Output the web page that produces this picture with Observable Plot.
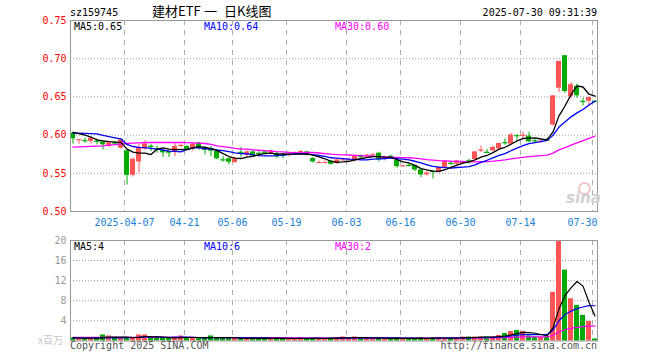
<!DOCTYPE html>
<html><head><meta charset="utf-8">
<script src="https://cdn.jsdelivr.net/npm/d3@7"></script>
<script src="https://cdn.jsdelivr.net/npm/@observablehq/plot@0.6"></script>
<style>
body{margin:0;background:#fff;}
#wrap{position:relative;width:660px;height:360px;overflow:hidden;font-family:"DejaVu Sans Mono",monospace;background:#fff;}
#wrap svg{position:absolute;left:0;background:transparent;}
.t{position:absolute;white-space:nowrap;font-size:10px;line-height:10px;z-index:5;}
</style></head><body><div id="wrap"></div><script>
const dates = ["03-24","03-25","03-26","03-27","03-28","03-31","04-01","04-02","04-03",
"04-07","04-08","04-09","04-10","04-11","04-14","04-15","04-16","04-17","04-18",
"04-21","04-22","04-23","04-24","04-25","04-28","04-29","04-30",
"05-06","05-07","05-08","05-09","05-12","05-13","05-14","05-15","05-16",
"05-19","05-20","05-21","05-22","05-23","05-26","05-27","05-28","05-29","05-30",
"06-03","06-04","06-05","06-06","06-09","06-10","06-11","06-12","06-13",
"06-16","06-17","06-18","06-19","06-20","06-23","06-24","06-25","06-26","06-27","06-30",
"07-01","07-02","07-03","07-04","07-07","07-08","07-09","07-10","07-11",
"07-14","07-15","07-16","07-17","07-18","07-21","07-22","07-23","07-24","07-25",
"07-28","07-29","07-30"];
const open = [.6026,.5935,.5930,.5917,.5921,.5908,.5851,.5899,.5829,.5793,
.5474,.5649,.5816,.5855,.5825,.5794,.5785,.5772,.5860,.5851,
.5820,.5895,.5838,.5825,.5785,.5680,.5689,.5640,.5775,.5737,
.5780,.5763,.5780,.5760,.5760,.5740,.5741,.5764,.5763,.5780,
.5693,.5636,.5636,.5662,.5627,.5671,.5676,.5667,.5732,.5711,
.5737,.5763,.5693,.5724,.5667,.5592,.5605,.5601,.5543,.5480,
.5526,.5513,.5575,.5631,.5618,.5627,.5666,.5680,.5799,.5776,
.5793,.5820,.5903,.5882,.5995,.5992,.5987,.5929,.5908,.5938,
.6132,.6614,.7039,.6504,.6640,.6442,.6443,.6442];
const high = [.6039,.5939,.5961,.5974,.5947,.5917,.5917,.5917,.5952,.5807,
.5697,.5877,.5925,.5882,.5851,.5807,.5794,.5895,.5882,.5864,
.5899,.5908,.5851,.5851,.5798,.5719,.5702,.5702,.5838,.5798,
.5793,.5785,.5790,.5807,.5776,.5760,.5768,.5780,.5798,.5785,
.5706,.5662,.5662,.5671,.5689,.5697,.5702,.5741,.5741,.5750,
.5760,.5776,.5724,.5737,.5675,.5605,.5627,.5605,.5548,.5526,
.5535,.5583,.5662,.5654,.5671,.5662,.5684,.5785,.5855,.5811,
.5855,.5895,.5952,.6026,.6004,.6039,.6039,.5943,.5934,.5961,
.6517,.6965,.7039,.6688,.6671,.6483,.6496,.6455];
const low = [.5882,.5882,.5895,.5882,.5873,.5807,.5838,.5873,.5816,.5346,
.5450,.5500,.5803,.5785,.5763,.5706,.5706,.5719,.5838,.5798,
.5790,.5802,.5741,.5719,.5675,.5645,.5610,.5632,.5706,.5706,
.5710,.5714,.5745,.5745,.5693,.5693,.5714,.5750,.5745,.5724,
.5632,.5627,.5627,.5605,.5618,.5662,.5667,.5645,.5697,.5702,
.5728,.5649,.5662,.5684,.5566,.5583,.5583,.5522,.5443,.5465,
.5425,.5504,.5566,.5605,.5605,.5618,.5618,.5671,.5772,.5763,
.5785,.5807,.5868,.5882,.5934,.5943,.5899,.5899,.5895,.5925,
.6118,.6557,.6548,.6470,.6483,.6382,.6373,.6430];
const close = [.5951,.5939,.5925,.5961,.5917,.5873,.5899,.5895,.5939,.5474,
.5684,.5833,.5886,.5851,.5820,.5768,.5763,.5851,.5864,.5807,
.5882,.5838,.5799,.5790,.5689,.5675,.5645,.5689,.5770,.5780,
.5724,.5760,.5760,.5793,.5714,.5737,.5745,.5768,.5785,.5737,
.5649,.5640,.5640,.5618,.5675,.5675,.5680,.5732,.5706,.5737,
.5741,.5675,.5697,.5693,.5588,.5596,.5601,.5543,.5478,.5504,
.5522,.5575,.5654,.5627,.5662,.5649,.5662,.5780,.5803,.5772,
.5838,.5890,.5899,.6000,.5991,.5996,.5912,.5925,.5921,.5934,
.6513,.6965,.6570,.6660,.6515,.6438,.6493,.6438];
const volume = [0.6,0.5,0.5,0.6,0.5,1.2,1.0,0.5,0.7,0.6,
0.7,1.2,1.2,0.6,0.5,0.5,0.6,0.8,1.0,0.6,
0.5,0.6,0.6,1.0,0.7,0.5,0.6,0.5,0.6,0.5,
0.6,0.5,0.6,0.5,0.6,0.5,0.4,0.5,0.6,0.5,
0.6,0.5,0.5,0.6,0.7,0.8,0.5,0.8,0.6,0.5,
0.6,0.6,0.5,0.5,0.6,0.5,0.5,0.6,0.6,0.5,
0.6,0.7,0.6,0.5,0.6,0.8,0.8,0.8,0.8,0.8,
0.8,1.1,1.5,1.9,2.1,1.9,1.0,0.8,0.7,0.8,
9.7,19.9,14.1,8.4,7.1,5.1,3.9,0.4];
// MA values before a full window is available
const ma5Head = [0.6036,0.6020,0.6000,0.5975];
const ma10Head = [0.6026,0.6024,0.6022,0.6020,0.6015,0.5995,0.5980,0.5965,0.5950];
const ma30Head = [0.5842,0.5845,0.5848,0.5852,0.5856,0.5860,0.5868,0.5876,0.5884,0.5890,
0.5895,0.5899,0.5903,0.5903,0.5903,0.5903,0.5903,0.5903,0.5903,0.5901,
0.5898,0.5895,0.5890,0.5878,0.5858,0.5848,0.5838,0.5825,0.5816];
const vma5Head = [0.62,0.60,0.58,0.60];
const vma10Head = [0.62,0.61,0.60,0.60,0.61,0.62,0.62,0.61,0.62];
const vma30Head = [0.72,0.72,0.71,0.71,0.71,0.72,0.72,0.71,0.71,0.71,
0.72,0.72,0.73,0.72,0.72,0.71,0.71,0.71,0.72,0.71,
0.71,0.70,0.70,0.70,0.70,0.69,0.69,0.68,0.68];
const tickDates = ["04-07","04-21","05-06","05-19","06-03","06-16","06-30","07-14","07-30"];
const tickLabels = ["2025-04-07","04-21","05-06","05-19","06-03","06-16","06-30","07-14","07-30"];
const priceTicks = [0.50,0.55,0.60,0.65,0.70,0.75];
const priceGrid = [0.55,0.60,0.65,0.70];
const volTicks = [4,8,12,16,20];

const RED = "#ff5555", GREEN = "#00aa00";
const N = dates.length;
function ma(arr, n, head){ return arr.map((_, i) => i < n-1 ? head[i] : d3.mean(arr.slice(i-n+1, i+1))); }
const m5 = ma(close,5,ma5Head), m10 = ma(close,10,ma10Head), m30 = ma(close,30,ma30Head);
const v5 = ma(volume,5,vma5Head), v10 = ma(volume,10,vma10Head), v30 = ma(volume,30,vma30Head);
const rows = d3.range(N).map(i => ({i, o:open[i], h:high[i], l:low[i], c:close[i], v:volume[i],
  col: close[i] >= open[i] ? RED : GREEN, m5:m5[i], m10:m10[i], m30:m30[i], v5:v5[i], v10:v10[i], v30:v30[i]}));
const half = 2.5/6, bw = 0.42;
const xDomain = [-half, N-1+half];
const tickIdx = tickDates.map(d => dates.indexOf(d));
const doji = rows.filter(d => Math.abs(d.c - d.o) < 0.0009);
const font = {fontFamily:"'DejaVu Sans Mono', monospace", fontSize:"10px", background:"transparent"};

const price = Plot.plot({
  width:660, height:230, marginLeft:70, marginRight:63, marginTop:20, marginBottom:19,
  style: font,
  x:{domain:xDomain, axis:null},
  y:{domain:[0.5,0.75], axis:null},
  color:{type:"identity"},
  marks:[
    Plot.ruleY(priceGrid, {stroke:"#999", strokeDasharray:"1,2"}),
    Plot.ruleX(tickIdx, {x:d=>d-half, stroke:"#aaa", strokeDasharray:"5,5"}),
    Plot.text(priceTicks, {x:xDomain[0], y:d=>d, text:d=>d.toFixed(2), textAnchor:"end", dx:-4, fill:"#ff0000"}),
    Plot.text(tickIdx.slice(0,-1), {x:d=>d-half, y:0.5, text:(d,k)=>tickLabels[k], dy:11, fill:"#1a7fd6"}),
    Plot.text([tickIdx[tickIdx.length-1]], {x:xDomain[1], y:0.5, text:()=>tickLabels[tickLabels.length-1], dy:11, textAnchor:"end", fill:"#1a7fd6"}),
    Plot.ruleX(rows, {x:"i", y1:"l", y2:"h", stroke:"col"}),
    Plot.rect(rows, {x1:d=>d.i-bw, x2:d=>d.i+bw, y1:"o", y2:"c", fill:"col"}),
    Plot.ruleY(doji, {y:"c", x1:d=>d.i-bw, x2:d=>d.i+bw+0.1, stroke:"col"}),
    Plot.line(rows, {x:"i", y:"m30", stroke:"#ff00ff", strokeWidth:1.3}),
    Plot.line(rows, {x:"i", y:"m10", stroke:"#0000ff", strokeWidth:1.3}),
    Plot.line(rows, {x:"i", y:"m5", stroke:"#000000", strokeWidth:1.3}),
    Plot.frame({stroke:"#999"})
  ]
});
price.style.top = "0px";

const vol = Plot.plot({
  width:660, height:130, marginLeft:70, marginRight:63, marginTop:10, marginBottom:19.5,
  style: font,
  x:{domain:xDomain, axis:null},
  y:{domain:[0,20], axis:null},
  color:{type:"identity"},
  marks:[
    Plot.ruleY([4,8,12,16], {stroke:"#999", strokeDasharray:"1,2"}),
    Plot.ruleX(tickIdx, {x:d=>d-half, stroke:"#aaa", strokeDasharray:"5,5"}),
    Plot.text(volTicks, {x:xDomain[0], y:d=>d, text:d=>String(d), textAnchor:"end", dx:-4, fill:"#999"}),
    Plot.rect(rows, {x1:d=>d.i-bw, x2:d=>d.i+bw, y1:0, y2:"v", fill:"col"}),
    Plot.line(rows, {x:"i", y:"v30", stroke:"#ff00ff", strokeWidth:1.2}),
    Plot.line(rows, {x:"i", y:"v10", stroke:"#0000ff", strokeWidth:1.2}),
    Plot.line(rows, {x:"i", y:"v5", stroke:"#000000", strokeWidth:1.2}),
    Plot.frame({stroke:"#999"})
  ]
});
vol.style.top = "230px";

const wrap = document.getElementById("wrap");
wrap.appendChild(price);
wrap.appendChild(vol);
function txt(s, css){ const d=document.createElement("div"); d.className="t"; d.textContent=s; Object.assign(d.style, css); wrap.appendChild(d); }
const cjk = "'Noto Sans CJK SC', sans-serif";
txt("sz159745", {left:"70px", top:"8px", color:"#000"});
txt("建材ETF", {left:"152px", top:"4px", fontSize:"13px", lineHeight:"13px", fontFamily:cjk, color:"#000"});
txt("一", {left:"204px", top:"4px", fontSize:"13px", lineHeight:"13px", fontFamily:cjk, color:"#000"});
txt("日K线图", {left:"224px", top:"4px", fontSize:"13px", lineHeight:"13px", fontFamily:cjk, color:"#000"});
txt("2025-07-30 09:31:39", {right:"63px", top:"8px", color:"#000"});
txt("MA5:0.65", {left:"74px", top:"22px", color:"#000"});
txt("MA10:0.64", {left:"204px", top:"22px", color:"#0000ff"});
txt("MA30:0.60", {left:"335px", top:"22px", color:"#ff00ff"});
txt("MA5:4", {left:"74px", top:"242px", color:"#000"});
txt("MA10:6", {left:"204px", top:"242px", color:"#0000ff"});
txt("MA30:2", {left:"335px", top:"242px", color:"#ff00ff"});
txt("x百万", {left:"38px", top:"335px", color:"#c8c8c8", fontFamily:cjk});
txt("Copyright 2025 SINA.COM", {left:"70px", top:"341px", color:"#555"});
txt("http://finance.sina.com.cn", {right:"63px", top:"341px", color:"#555"});
txt("sina", {left:"566px", top:"191px", fontSize:"15px", lineHeight:"15px", fontWeight:"bold", fontStyle:"italic", color:"#d0d0d0", fontFamily:"'DejaVu Sans', sans-serif"});
const eye = document.createElement("div");
Object.assign(eye.style, {position:"absolute", left:"578px", top:"182px", width:"9px", height:"9px", borderRadius:"50%", border:"2px solid #f0c4c4", zIndex:4});
wrap.appendChild(eye);
</script></body></html>
